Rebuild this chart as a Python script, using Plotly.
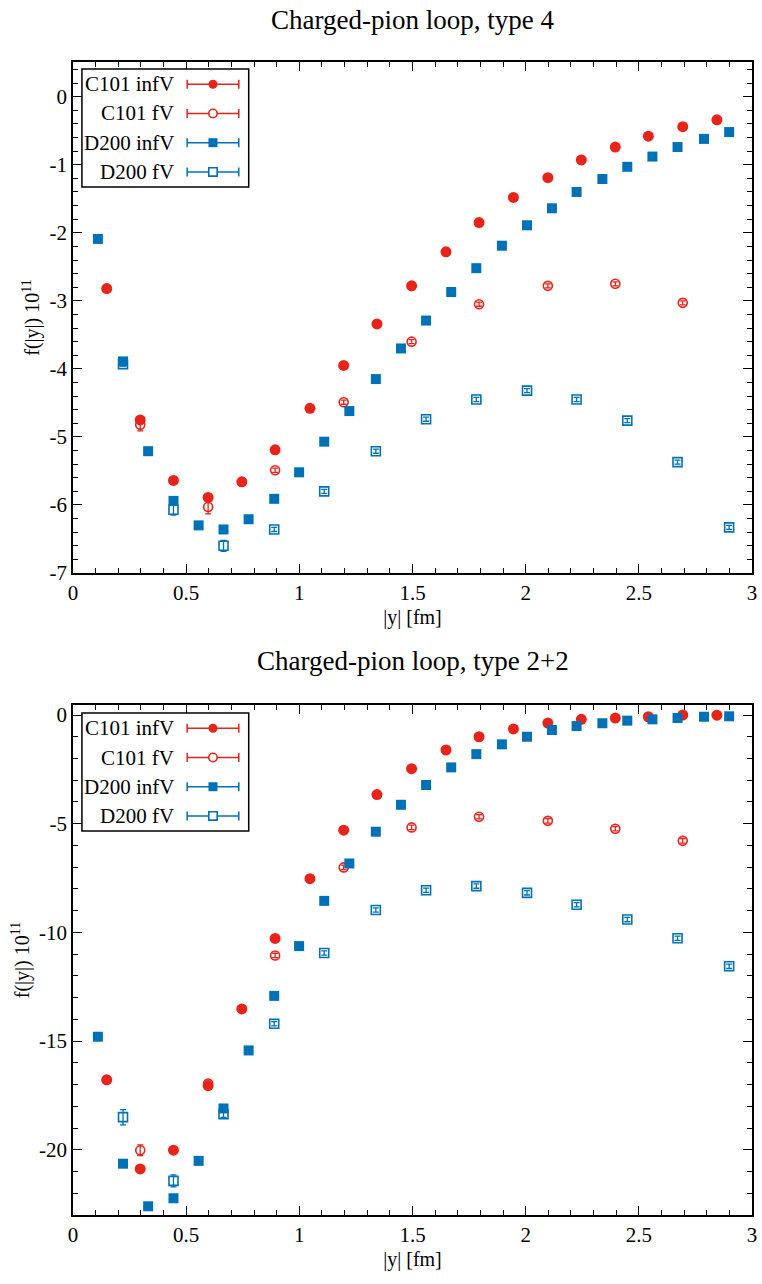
import plotly.graph_objects as go

# ---------------- data ----------------
# x positions (|y| in fm)
x_c101 = [0.149, 0.297, 0.444, 0.597, 0.746, 0.893, 1.047, 1.196, 1.343, 1.496,
          1.648, 1.794, 1.946, 2.098, 2.246, 2.396, 2.542, 2.694, 2.845]
x_c101_fv = [0.297, 0.597, 0.893, 1.196, 1.496, 1.794, 2.098, 2.396, 2.694]
x_d200 = [0.110, 0.221, 0.332, 0.444, 0.555, 0.665, 0.776, 0.889, 0.999, 1.110,
          1.221, 1.338, 1.449, 1.560, 1.671, 1.782, 1.895, 2.006, 2.116, 2.225,
          2.339, 2.449, 2.560, 2.671, 2.788, 2.899]
x_d200_fv = [0.221, 0.444, 0.665, 0.889, 1.110, 1.338, 1.560, 1.782, 2.006, 2.225,
             2.449, 2.671, 2.899]

# type 4
t4_c101_inf = [-2.82, -4.75, -5.64, -5.89, -5.66, -5.19, -4.58, -3.95, -3.34, -2.78,
               -2.28, -1.85, -1.48, -1.19, -0.93, -0.74, -0.58, -0.44, -0.34]
t4_c101_inf_err = [0.02] * 19
t4_c101_fv = [-4.82, -6.03, -5.49, -4.49, -3.60, -3.05, -2.78, -2.75, -3.03]
t4_c101_fv_err = [0.09, 0.10, 0.03, 0.03, 0.03, 0.03, 0.03, 0.03, 0.03]
t4_d200_inf = [-2.09, -3.89, -5.21, -5.94, -6.30, -6.36, -6.21, -5.91, -5.52, -5.07,
               -4.62, -4.15, -3.70, -3.29, -2.87, -2.52, -2.19, -1.89, -1.64, -1.40,
               -1.21, -1.03, -0.88, -0.74, -0.62, -0.52]
t4_d200_inf_err = [0.02] * 26
t4_d200_fv = [-3.93, -6.07, -6.60, -6.36, -5.80, -5.21, -4.74, -4.45, -4.32, -4.45,
              -4.76, -5.37, -6.33]
t4_d200_fv_err = [0.03, 0.08, 0.08, 0.03, 0.03, 0.03, 0.03, 0.03, 0.03, 0.03,
                  0.03, 0.03, 0.03]

# type 2+2
t22_c101_inf = [-16.78, -20.88, -20.02, -17.05, -13.52, -10.28, -7.53, -5.30, -3.66, -2.47,
                -1.61, -1.00, -0.64, -0.37, -0.20, -0.14, -0.08, 0.00, -0.01]
t22_c101_inf_err = [0.08, 0.08, 0.08, 0.15, 0.08, 0.08, 0.05, 0.05, 0.05, 0.05,
                    0.05, 0.05, 0.05, 0.05, 0.05, 0.05, 0.05, 0.05, 0.05]
t22_c101_fv = [-20.02, -16.95, -11.06, -7.01, -5.17, -4.68, -4.87, -5.23, -5.79]
t22_c101_fv_err = [0.25, 0.15, 0.10, 0.10, 0.10, 0.10, 0.10, 0.10, 0.10]
t22_d200_inf = [-14.80, -20.64, -22.60, -22.23, -20.51, -18.10, -15.43, -12.92, -10.63, -8.55,
                -6.83, -5.37, -4.13, -3.22, -2.41, -1.80, -1.35, -1.00, -0.69, -0.51,
                -0.38, -0.26, -0.20, -0.14, -0.08, -0.06]
t22_d200_inf_err = [0.05] * 26
t22_d200_fv = [-18.50, -21.43, -18.36, -14.20, -10.95, -8.97, -8.06, -7.87, -8.18, -8.73,
               -9.41, -10.27, -11.56]
t22_d200_fv_err = [0.35, 0.28, 0.15, 0.10, 0.10, 0.10, 0.10, 0.10, 0.10, 0.10,
                   0.10, 0.10, 0.10]

series_names = ["C101 infV", "C101 fV", "D200 infV", "D200 fV"]

x_tickvals = [0, 0.5, 1, 1.5, 2, 2.5, 3]
x_ticktext = ["0", "0.5", "1", "1.5", "2", "2.5", "3"]
y1_tickvals = [0, -1, -2, -3, -4, -5, -6, -7]
y1_ticktext = ["0", "-1", "-2", "-3", "-4", "-5", "-6", "-7"]
y2_tickvals = [0, -5, -10, -15, -20]
y2_ticktext = ["0", "-5", "-10", "-15", "-20"]

titles = ["Charged-pion loop, type 4", "Charged-pion loop, type 2+2"]
x_title = "|y| [fm]"
y_title = "f(|y|) 10<sup>11</sup>"

# ---------------- style ----------------
RED = "#e8231a"
BLUE = "#0071b6"
FONT = "'Liberation Serif', 'Times New Roman', 'DejaVu Serif', serif"

styles = [
    dict(color=RED, symbol="circle", size=11, open=False, shape="circle"),
    dict(color=RED, symbol="circle-open", size=9, open=True, shape="circle"),
    dict(color=BLUE, symbol="square", size=10, open=False, shape="rect"),
    dict(color=BLUE, symbol="square-open", size=9, open=True, shape="rect"),
]

fig = go.Figure()

panels = [
    (("x", "y"), [(x_c101, t4_c101_inf, t4_c101_inf_err),
                  (x_c101_fv, t4_c101_fv, t4_c101_fv_err),
                  (x_d200, t4_d200_inf, t4_d200_inf_err),
                  (x_d200_fv, t4_d200_fv, t4_d200_fv_err)]),
    (("x2", "y2"), [(x_c101, t22_c101_inf, t22_c101_inf_err),
                    (x_c101_fv, t22_c101_fv, t22_c101_fv_err),
                    (x_d200, t22_d200_inf, t22_d200_inf_err),
                    (x_d200_fv, t22_d200_fv, t22_d200_fv_err)]),
]

for (xa, ya), data in panels:
    for name, st, (xs, ys, es) in zip(series_names, styles, data):
        fig.add_trace(go.Scatter(
            x=xs, y=ys, name=name, mode="markers",
            xaxis=xa, yaxis=ya, showlegend=False,
            marker=dict(color=st["color"], symbol=st["symbol"], size=st["size"],
                        line=dict(color=st["color"], width=1.6 if st["open"] else 0)),
            error_y=dict(type="data", array=es, visible=True, color=st["color"],
                         thickness=1.3, width=3),
        ))

# ---------------- geometry (window pixels; page margin removed by post_script) ----------------
W, H = 762, 1284
PX0, PX1 = 73, 757
PY_TOP, PY_BOT = 62, 1215
L, R, T, B = PX0, W - PX1, PY_TOP, H - PY_BOT
pw = PX1 - PX0
ph = PY_BOT - PY_TOP


def pxx(x):
    return (x - PX0) / pw


def pxy(y):
    return (PY_BOT - y) / ph


dom_top = [pxy(573), 1.0]
dom_bot = [0.0, pxy(705)]

TICKFONT = dict(family=FONT, size=21, color="black")
axis_common = dict(
    showline=True, linecolor="black", linewidth=1.8, mirror="allticks",
    ticks="inside", ticklen=9, tickwidth=1.3, tickcolor="black",
    showgrid=False, zeroline=False, ticklabeloverflow="allow",
    tickfont=TICKFONT,
)

fig.update_layout(
    width=W, height=H,
    margin=dict(l=L, r=R, t=T, b=B),
    paper_bgcolor="white", plot_bgcolor="white",
    font=dict(family=FONT, size=20, color="black"),
    showlegend=False,
    xaxis=dict(domain=[0, 1], anchor="y", range=[0, 3], tickvals=x_tickvals, ticktext=x_ticktext,
               minor=dict(dtick=0.1, ticks="inside", ticklen=5, tickcolor="black", tickwidth=1),
               title=dict(text=x_title, font=dict(family=FONT, size=20), standoff=6),
               **axis_common),
    yaxis=dict(domain=dom_top, anchor="x", range=[-7, 0.51], tickvals=y1_tickvals, ticktext=y1_ticktext,
               minor=dict(dtick=0.2, ticks="inside", ticklen=5, tickcolor="black", tickwidth=1),
               title=dict(text=y_title, font=dict(family=FONT, size=20), standoff=4),
               **axis_common),
    xaxis2=dict(domain=[0, 1], anchor="y2", range=[0, 3], tickvals=x_tickvals, ticktext=x_ticktext,
                minor=dict(dtick=0.1, ticks="inside", ticklen=5, tickcolor="black", tickwidth=1),
                title=dict(text=x_title, font=dict(family=FONT, size=20), standoff=6),
                **axis_common),
    yaxis2=dict(domain=dom_bot, anchor="x2", range=[-23, 0.46], tickvals=y2_tickvals, ticktext=y2_ticktext,
                minor=dict(dtick=1, ticks="inside", ticklen=5, tickcolor="black", tickwidth=1),
                title=dict(text=y_title, font=dict(family=FONT, size=20), standoff=4),
                **axis_common),
)

annotations = [
    dict(text=titles[0], xref="paper", yref="paper", x=0.5, y=pxy(20),
         showarrow=False, font=dict(family=FONT, size=27, color="black"), yanchor="middle"),
    dict(text=titles[1], xref="paper", yref="paper", x=0.5, y=pxy(661),
         showarrow=False, font=dict(family=FONT, size=27, color="black"), yanchor="middle"),
]
shapes = []

# ---------------- custom legends (text left, key right, as in the reference) ----------------
LEG_X0, LEG_X1 = 82, 250
TEXT_RIGHT = 177
KEY_X0, KEY_X1, KEY_XC = 188, 240, 214
for box_top in (69, 713):
    shapes.append(dict(type="rect", xref="paper", yref="paper", layer="above",
                       x0=pxx(LEG_X0), x1=pxx(LEG_X1), y0=pxy(box_top), y1=pxy(box_top + 118),
                       line=dict(color="black", width=1.5), fillcolor="white"))
    for i, (name, st) in enumerate(zip(series_names, styles)):
        yc = box_top + 15.3 + 29.2 * i
        annotations.append(dict(text=name, xref="paper", yref="paper", x=pxx(TEXT_RIGHT), y=pxy(yc),
                                xanchor="right", yanchor="middle", showarrow=False,
                                font=dict(family=FONT, size=21, color="black")))
        shapes.append(dict(type="line", xref="paper", yref="paper", layer="above",
                           x0=pxx(KEY_X0), x1=pxx(KEY_X1), y0=pxy(yc), y1=pxy(yc),
                           line=dict(color=st["color"], width=1.5)))
        for cx in (KEY_X0, KEY_X1):
            shapes.append(dict(type="line", xref="paper", yref="paper", layer="above",
                               x0=pxx(cx), x1=pxx(cx), y0=pxy(yc - 4.5), y1=pxy(yc + 4.5),
                               line=dict(color=st["color"], width=1.5)))
        half = 4.5 if not st["open"] else 4.2
        shapes.append(dict(type=st["shape"], xref="paper", yref="paper", layer="above",
                           xsizemode="pixel", ysizemode="pixel",
                           xanchor=pxx(KEY_XC), yanchor=pxy(yc),
                           x0=-half, x1=half, y0=-half, y1=half,
                           fillcolor="white" if st["open"] else st["color"],
                           line=dict(color=st["color"], width=1.6 if st["open"] else 0)))

fig.update_layout(annotations=annotations, shapes=shapes)

fig.write_html(
    "out.html",
    config={"displayModeBar": False},
    post_script="document.body.style.margin='0';document.body.style.overflow='hidden';",
)
